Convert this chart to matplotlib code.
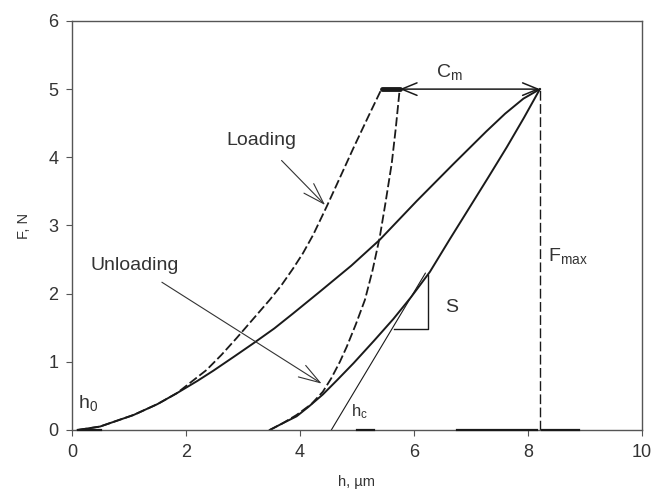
import matplotlib
matplotlib.use("Agg")
import matplotlib.pyplot as plt

plt.rcParams['font.family'] = ['Liberation Sans', 'DejaVu Sans']
plt.rcParams['mathtext.fontset'] = 'custom'
plt.rcParams['mathtext.rm'] = 'Liberation Sans'
plt.rcParams['mathtext.it'] = 'Liberation Sans'

# ---- data ----
h_load1 = [0.1, 0.49, 1.08, 1.5, 1.84, 2.1, 2.36, 2.62, 2.89, 3.18, 3.47, 3.68, 3.88,
           4.05, 4.23, 4.47, 4.7, 4.94, 5.2, 5.43]
F_load1 = [0.0, 0.05, 0.22, 0.38, 0.54, 0.71, 0.88, 1.1, 1.35, 1.63, 1.91, 2.13, 2.37,
           2.59, 2.86, 3.28, 3.7, 4.14, 4.6, 5.0]

h_unl1 = [3.47, 3.7, 3.94, 4.2, 4.4, 4.55, 4.7, 4.82, 4.98, 5.14, 5.27, 5.40, 5.5,
          5.61, 5.68, 5.75]
F_unl1 = [0.0, 0.1, 0.22, 0.38, 0.56, 0.76, 1.0, 1.22, 1.55, 1.91, 2.33, 2.83, 3.33,
          3.91, 4.42, 5.0]

h_load2 = [0.1, 0.49, 1.08, 1.5, 1.84, 2.2, 2.48, 2.85, 3.18, 3.55, 3.88, 4.35, 4.9,
           5.4, 6.05, 6.69, 7.27, 7.6, 7.92, 8.21]
F_load2 = [0.0, 0.05, 0.22, 0.38, 0.54, 0.72, 0.87, 1.08, 1.27, 1.49, 1.71, 2.03, 2.41,
           2.79, 3.36, 3.9, 4.38, 4.64, 4.86, 5.0]

h_unl2 = [3.47, 3.7, 3.94, 4.15, 4.4, 4.65, 4.94, 5.3, 5.64, 5.95, 6.28, 6.63, 6.98,
          7.3, 7.63, 7.93, 8.21]
F_unl2 = [0.0, 0.1, 0.2, 0.34, 0.52, 0.73, 0.98, 1.31, 1.63, 1.95, 2.32, 2.8, 3.27,
          3.7, 4.15, 4.58, 5.0]

h_creep = [5.44, 5.75]
F_creep = [5.0, 5.0]

h_tangent = [4.55, 6.2]
F_tangent = [0.0, 2.3]

h_tri = [5.65, 6.25, 6.25]
F_tri = [1.48, 1.48, 2.28]

h_fmax = [8.21, 8.21]
F_fmax = [0.0, 5.0]

zero_segments = [(0.1, 0.5), (5.0, 5.3), (6.75, 8.16), (8.25, 8.9)]

x_ticks = [0, 2, 4, 6, 8, 10]
y_ticks = [0, 1, 2, 3, 4, 5, 6]

ink = '#1a1a1a'
grey = '#555555'
tc = '#333333'

fig = plt.figure(figsize=(6.55, 4.94), dpi=100)
ax = fig.add_axes([0.110, 0.1296, 0.870, 0.828])

ax.plot(h_load1, F_load1, color=ink, lw=1.3, dashes=(5, 1.8))
ax.plot(h_unl1, F_unl1, color=ink, lw=1.3, dashes=(5, 1.8))
ax.plot(h_load2, F_load2, color=ink, lw=1.4)
ax.plot(h_unl2, F_unl2, color=ink, lw=1.4)
ax.plot(h_creep, F_creep, color=ink, lw=3.5, solid_capstyle='round')
ax.plot(h_tangent, F_tangent, color=ink, lw=0.8)
ax.plot(h_tri, F_tri, color=ink, lw=1.0)
ax.plot(h_fmax, F_fmax, color=ink, lw=1.0, dashes=(7, 2.5))
for a, b in zero_segments:
    ax.plot([a, b], [0, 0], color=ink, lw=1.6, clip_on=False, zorder=3)

# C_m double arrow
ax.annotate('', xy=(8.21, 5.0), xytext=(5.75, 5.0),
            arrowprops=dict(arrowstyle='<->,head_length=1.1,head_width=0.45',
                            color=ink, lw=1.1, shrinkA=0, shrinkB=0))

# Loading / Unloading arrows
ax.annotate('Loading', xy=(4.44, 3.3), xytext=(3.33, 4.25),
            ha='center', va='center', fontsize=14, color=tc,
            arrowprops=dict(arrowstyle='->,head_length=1.1,head_width=0.35',
                            color=tc, lw=0.8, shrinkA=9, shrinkB=0))
ax.annotate('Unloading', xy=(4.38, 0.68), xytext=(1.1, 2.42),
            ha='center', va='center', fontsize=14, color=tc,
            arrowprops=dict(arrowstyle='->,head_length=1.1,head_width=0.35',
                            color=tc, lw=0.8, shrinkA=8, shrinkB=0))

ax.text(0.1, 0.39, r'h$_{\mathrm{0}}$', fontsize=14, color=tc, ha='left', va='center')
ax.text(4.9, 0.27, r'h$_{\mathrm{c}}$', fontsize=12, color=tc, ha='left', va='center')
ax.text(6.54, 1.79, 'S', fontsize=14, color=tc, ha='left', va='center')
ax.text(8.35, 2.55, r'F$_{\mathrm{max}}$', fontsize=14, color=tc, ha='left', va='center')
ax.text(6.63, 5.25, r'C$_{\mathrm{m}}$', fontsize=14, color=tc, ha='center', va='center')

ax.set_xlim(0, 10)
ax.set_ylim(0, 6)
ax.set_xticks(x_ticks)
ax.set_yticks(y_ticks)
ax.tick_params(direction='out', length=4, width=0.8, color=grey,
               labelsize=13, labelcolor=tc, pad=6)
for s in ax.spines.values():
    s.set_color(grey)
    s.set_linewidth(1.0)

ax.set_xlabel('h, µm', fontsize=10.5, color=tc, labelpad=10)
ax.set_ylabel('F, N', fontsize=10.5, color=tc, labelpad=12)

fig.savefig('out.png', dpi=100)
